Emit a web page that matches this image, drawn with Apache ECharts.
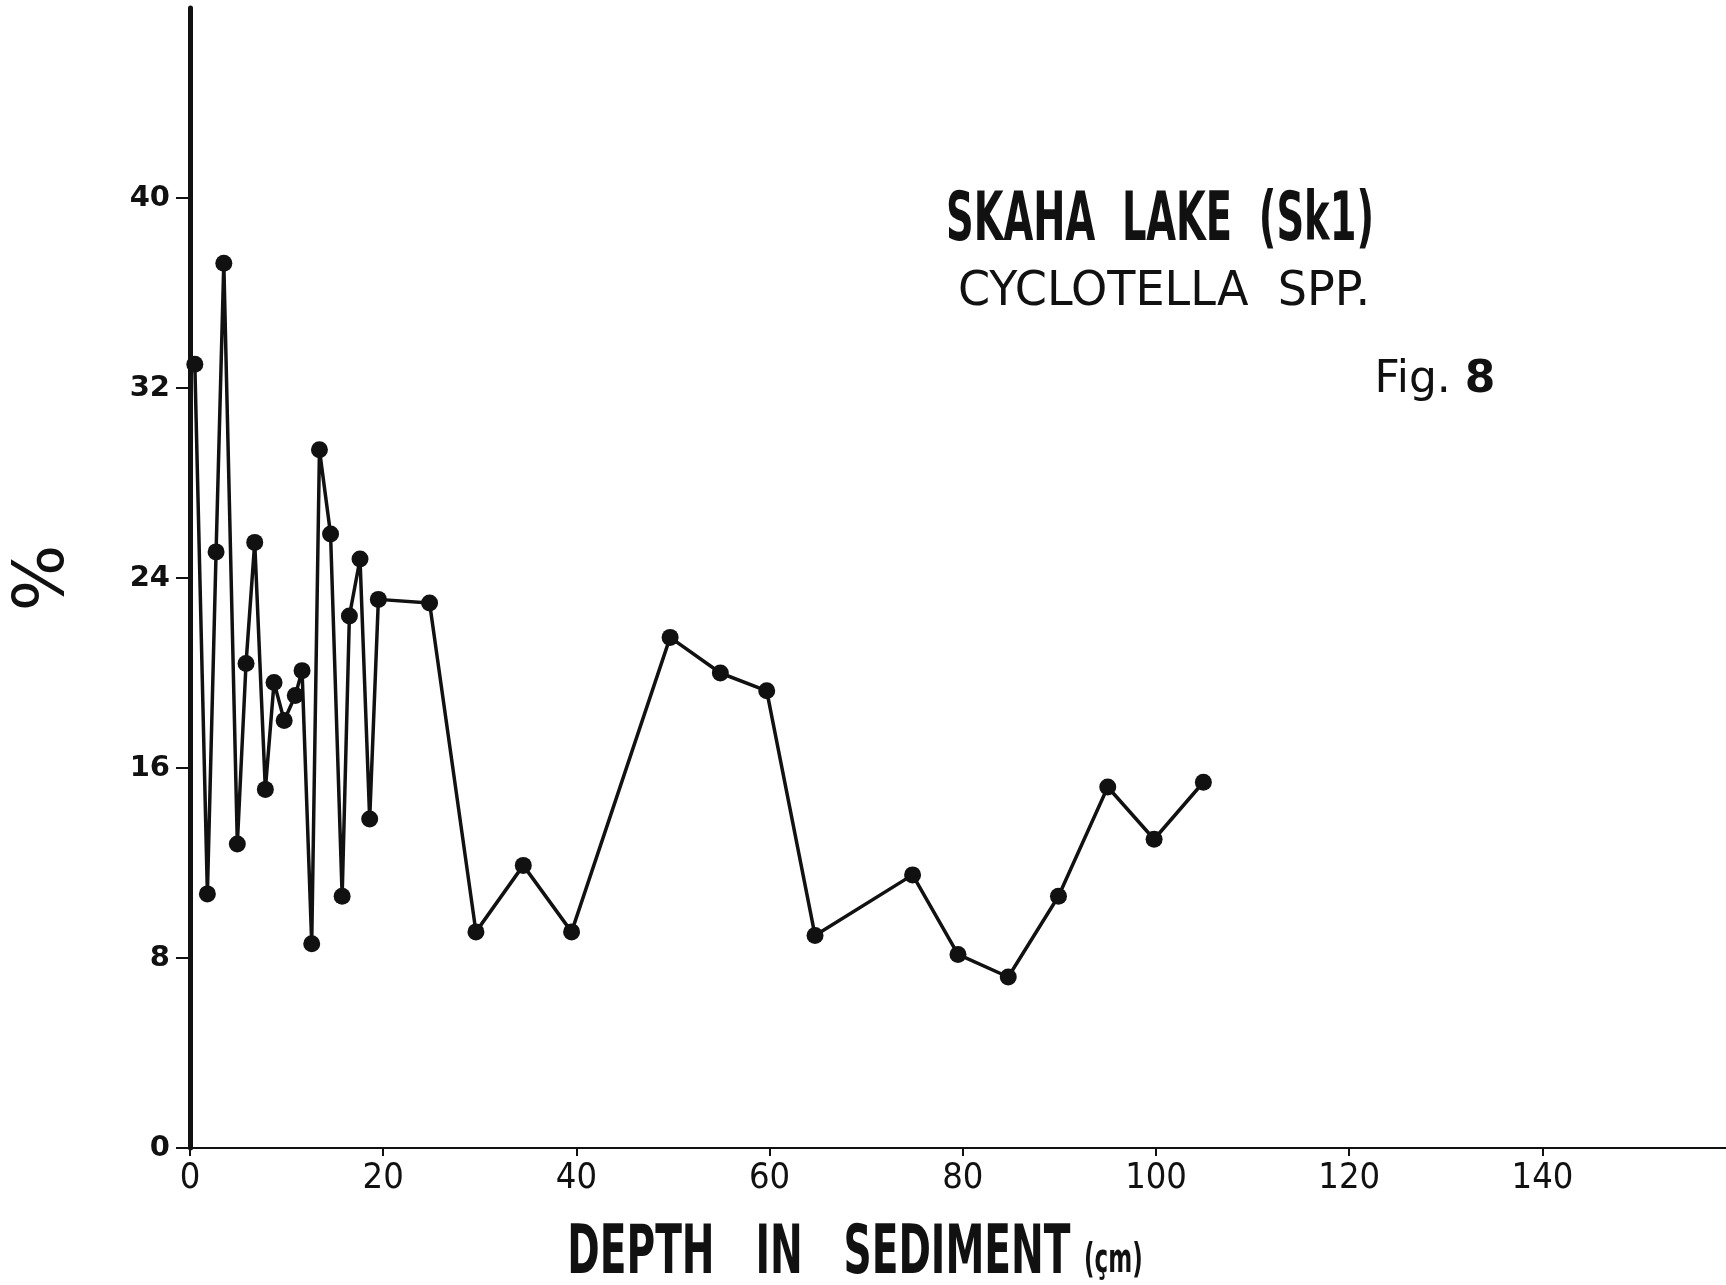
<!DOCTYPE html>
<html>
<head>
<meta charset="utf-8">
<script src="https://cdn.jsdelivr.net/npm/echarts@6/dist/echarts.min.js"></script>
<style>
  html, body { margin: 0; padding: 0; background: #fff; }
  #sk1-chart { width: 1726px; height: 1285px; }
</style>
</head>
<body>
<div id="sk1-chart"></div>
<script>
// depth (cm) and % Cyclotella spp.
var depths = [0.5, 1.8, 2.7, 3.5, 4.9, 5.8, 6.7, 7.8, 8.7, 9.75, 10.9, 11.6, 12.6, 13.4, 14.55, 15.75, 16.5, 17.6, 18.6, 19.5,
              24.8, 29.6, 34.5, 39.5, 49.7, 54.9, 59.7, 64.7, 74.8, 79.5, 84.7, 89.9, 95.0, 99.8, 104.9];
var percents = [33.0, 10.7, 25.1, 37.25, 12.8, 20.4, 25.5, 15.1, 19.6, 18.0, 19.05, 20.1, 8.6, 29.4, 25.85, 10.6, 22.4, 24.8, 13.85, 23.1,
                22.95, 9.1, 11.9, 9.1, 21.5, 20.0, 19.25, 8.95, 11.5, 8.15, 7.2, 10.6, 15.2, 13.0, 15.4];
var xTicks = [0, 20, 40, 60, 80, 100, 120, 140];
var yTicks = [0, 8, 16, 24, 32, 40];

var sk1Chart = echarts.init(document.getElementById('sk1-chart'));

function seriesData() {
    var out = [];
    for (var i = 0; i < depths.length; i++) {
        out.push([depths[i], percents[i]]);
    }
    return out;
}

sk1Chart.setOption({
    animation: false,
    backgroundColor: '#fff',
    grid: {
        left: 190,
        right: 0,
        top: 8,
        bottom: 137,
        outerBoundsMode: 'none'
    },
    xAxis: {
        type: 'value',
        min: 0,
        max: 159,
        splitLine: { show: false },
        axisLine: { lineStyle: { color: '#111', width: 2 } },
        axisTick: { customValues: xTicks, length: 8, lineStyle: { color: '#111', width: 2 } },
        axisLabel: {
            customValues: xTicks,
            margin: 13,
            color: '#111',
            fontSize: 36,
            fontFamily: '"Liberation Sans Narrow", "DejaVu Sans Condensed", sans-serif'
        }
    },
    yAxis: {
        type: 'value',
        min: 0,
        max: 48,
        interval: 8,
        name: '%',
        nameLocation: 'middle',
        nameGap: 110,
        nameRotate: 90,
        nameTextStyle: { color: '#111', fontSize: 70, fontFamily: 'DejaVu Sans' },
        splitLine: { show: false },
        axisLine: { lineStyle: { color: '#111', width: 5 } },
        axisTick: { customValues: yTicks, length: 14, lineStyle: { color: '#111', width: 2 } },
        axisLabel: {
            customValues: yTicks,
            margin: 20,
            color: '#111',
            fontSize: 29,
            fontWeight: 'bold',
            fontFamily: 'DejaVu Sans'
        }
    },
    graphic: [
        {
            type: 'text', x: 1160, y: 222, scaleX: 0.565,
            style: {
                text: 'SKAHA  LAKE  (Sk1)', fill: '#111',
                font: 'bold 68px "DejaVu Sans"',
                textAlign: 'center', textVerticalAlign: 'middle'
            }
        },
        {
            type: 'text', x: 1164, y: 293, scaleX: 0.96,
            style: {
                text: 'CYCLOTELLA  SPP.', fill: '#111',
                font: '48px "DejaVu Sans"',
                textAlign: 'center', textVerticalAlign: 'middle'
            }
        },
        {
            type: 'text', x: 1435, y: 381,
            style: {
                text: '{a|Fig. }{b|8}', fill: '#111',
                textAlign: 'center', textVerticalAlign: 'middle',
                rich: {
                    a: { fontSize: 44, fontFamily: 'DejaVu Sans', fill: '#111' },
                    b: { fontSize: 44, fontFamily: 'DejaVu Sans', fontWeight: 'bold', fill: '#111' }
                }
            }
        },
        {
            type: 'text', x: 855, y: 1255, scaleX: 0.575,
            style: {
                text: '{a|DEPTH   IN   SEDIMENT }{b|(çm)}', fill: '#111',
                textAlign: 'center', textVerticalAlign: 'middle',
                rich: {
                    a: { fontSize: 68, fontFamily: 'DejaVu Sans', fontWeight: 'bold', fill: '#111' },
                    b: { fontSize: 40, fontFamily: 'DejaVu Sans', fontWeight: 'bold', fill: '#111', padding: [14, 0, 0, 0] }
                }
            }
        }
    ],
    series: [{
        name: 'Cyclotella spp.',
        type: 'line',
        data: seriesData(),
        symbol: 'circle',
        symbolSize: 17,
        lineStyle: { color: '#111', width: 3.5 },
        itemStyle: { color: '#111' }
    }]
});
</script>
</body>
</html>
